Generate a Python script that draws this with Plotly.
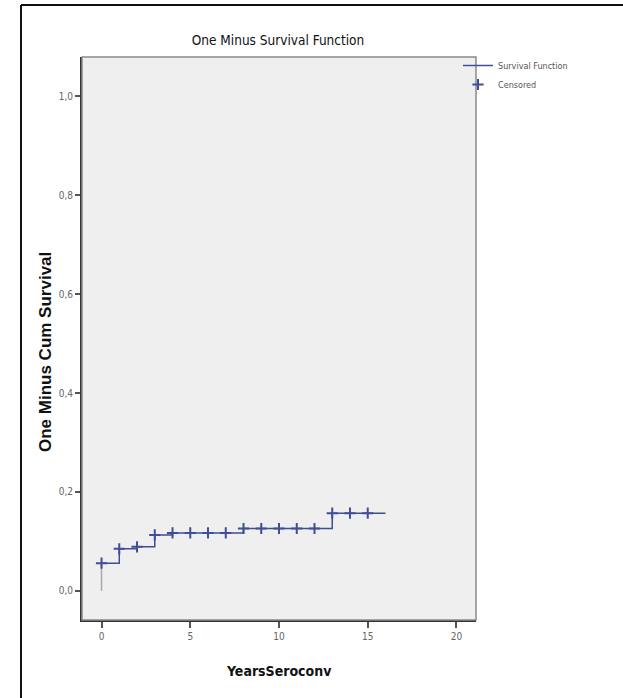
import plotly.graph_objects as go

# ---- data ----
event_times = [0, 1, 2, 3, 4, 8, 13, 16]
event_values = [0.056, 0.085, 0.089, 0.113, 0.117, 0.126, 0.157, 0.157]
censored_times = [0, 1, 2, 3, 4, 5, 6, 7, 8, 9, 10, 11, 12, 13, 14, 15]
x_ticks = [0, 5, 10, 15, 20]
y_ticks = [0.0, 0.2, 0.4, 0.6, 0.8, 1.0]


def value_at(t):
    v = 0.0
    for et, ev in zip(event_times, event_values):
        if et <= t:
            v = ev
    return v


censored_values = [value_at(t) for t in censored_times]

W, H = 623, 698
L, R, T, B = 82, 476, 57, 620
NARROW = "Liberation Sans Narrow, Arial Narrow, DejaVu Sans Condensed, sans-serif"
BLUE = "#3f4e96"

fig = go.Figure()
# initial rise at time 0 (gray)
fig.add_trace(go.Scatter(
    x=[event_times[0], event_times[0]], y=[0, event_values[0]],
    mode="lines", line=dict(color="#a9a9a9", width=1.5),
    showlegend=False, hoverinfo="skip"))
fig.add_trace(go.Scatter(
    x=event_times, y=event_values, mode="lines",
    line=dict(color=BLUE, width=1.5, shape="hv"),
    name="Survival Function"))
fig.add_trace(go.Scatter(
    x=censored_times, y=censored_values, mode="markers",
    marker=dict(symbol="cross-thin", size=8, line=dict(color=BLUE, width=2)),
    name="Censored"))

pw, ph = R - L, B - T
def px(xp):
    return (xp - L) / pw
def py(yp):
    return (B - yp) / ph

shapes = [
    dict(type="rect", xref="paper", yref="paper", x0=0, x1=1, y0=0, y1=1,
         line=dict(color="#8a8a8a", width=1.5), layer="above"),
    dict(type="line", xref="paper", yref="paper", x0=px(21), x1=px(623), y0=py(5), y1=py(5),
         line=dict(color="#111111", width=2)),
    dict(type="line", xref="paper", yref="paper", x0=px(21), x1=px(21), y0=py(5), y1=py(698),
         line=dict(color="#111111", width=2)),
]

annotations = [
    dict(text="<b>One Minus Cum Survival</b>", xref="paper", yref="paper",
         x=px(45), y=py(352), xanchor="center", yanchor="middle", textangle=-90,
         showarrow=False, font=dict(family="Liberation Sans, Arial, sans-serif", size=17, color="#111111")),
    dict(text="<b>YearsSeroconv</b>", xref="paper", yref="paper",
         x=px(279), y=py(671), xanchor="center", yanchor="middle",
         showarrow=False, font=dict(family=NARROW, size=14, color="#111111")),
]

fig.update_layout(
    width=W, height=H,
    margin=dict(l=L, r=W - R, t=T, b=H - B, pad=0),
    paper_bgcolor="white", plot_bgcolor="#efefef",
    separators=", ",
    shapes=shapes,
    annotations=annotations,
    title=dict(text="One Minus Survival Function", x=px(278), xanchor="center",
               y=1 - 40 / H, yanchor="middle", xref="paper", yref="container",
               font=dict(family=NARROW, size=13.5, color="#111111")),
    showlegend=True,
    legend=dict(x=px(458), xanchor="left", y=py(51), yanchor="top", bgcolor="rgba(0,0,0,0)",
                font=dict(family=NARROW, size=9, color="#555555"),
                itemwidth=30, tracegroupgap=0),
    xaxis=dict(range=[-1.1, 21.1], tickvals=x_ticks, ticktext=[str(v) for v in x_ticks],
               showgrid=False, zeroline=False, showline=True, linecolor="#333333", linewidth=2,
               ticks="outside", ticklen=6, tickcolor="#555555", tickwidth=1.5,
               tickfont=dict(family=NARROW, size=10, color="#666666")),
    yaxis=dict(range=[-0.059, 1.0795], tickvals=y_ticks, tickformat=".1f",
               showgrid=False, zeroline=False, showline=True, linecolor="#333333", linewidth=2,
               ticks="outside", ticklen=5, tickcolor="#555555", tickwidth=1.5,
               tickfont=dict(family=NARROW, size=10, color="#666666")),
)

fig.write_html("out.html", config={"displayModeBar": False},
               post_script="document.body.style.margin='0';document.body.style.padding='0';")
